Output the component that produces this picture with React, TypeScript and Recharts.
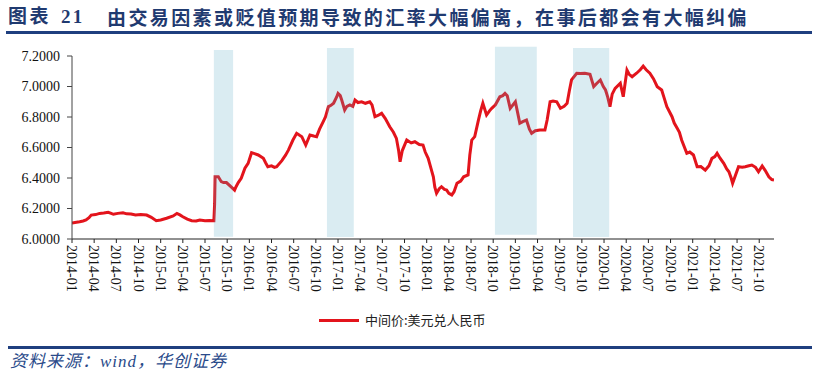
import React from 'react';
import { LineChart, Line, XAxis, YAxis, ReferenceArea } from 'recharts';

const dates = [
  '2014-01-01','2014-01-19','2014-02-02','2014-02-16','2014-02-28','2014-03-10','2014-03-19','2014-04-07','2014-04-23','2014-05-10',
  '2014-05-28','2014-06-10','2014-06-19','2014-07-07','2014-07-28','2014-08-13','2014-09-01','2014-09-19','2014-10-10','2014-11-04',
  '2014-11-23','2014-12-13','2015-01-01','2015-01-25','2015-02-22','2015-03-07','2015-03-19','2015-04-01','2015-04-19','2015-05-07',
  '2015-05-25','2015-06-10','2015-07-01','2015-07-19','2015-08-07','2015-08-10','2015-08-12','2015-08-25','2015-09-07','2015-09-16',
  '2015-09-28','2015-10-16','2015-11-01','2015-11-07','2015-11-16','2015-11-28','2015-12-13','2015-12-26','2016-01-10','2016-01-22',
  '2016-02-07','2016-02-28','2016-03-07','2016-03-16','2016-04-01','2016-04-13','2016-04-22','2016-05-13','2016-05-28','2016-06-10',
  '2016-06-28','2016-07-13','2016-07-25','2016-08-04','2016-08-20','2016-09-07','2016-09-22','2016-10-04','2016-10-16','2016-11-01',
  '2016-11-10','2016-11-22','2016-12-01','2016-12-13','2016-12-25','2017-01-01','2017-01-10','2017-01-16','2017-01-28','2017-02-07',
  '2017-02-19','2017-03-01','2017-03-10','2017-03-22','2017-04-07','2017-04-22','2017-05-10','2017-05-19','2017-06-01','2017-06-13',
  '2017-06-28','2017-07-13','2017-08-01','2017-08-16','2017-08-28','2017-09-07','2017-09-13','2017-09-22','2017-10-10','2017-10-28',
  '2017-11-13','2017-12-01','2017-12-16','2017-12-25','2018-01-07','2018-01-19','2018-01-28','2018-02-04','2018-02-11','2018-02-22',
  '2018-03-01','2018-03-13','2018-03-22','2018-04-01','2018-04-13','2018-04-22','2018-05-04','2018-05-19','2018-06-01','2018-06-19',
  '2018-06-26','2018-07-04','2018-07-16','2018-08-01','2018-08-10','2018-08-19','2018-09-04','2018-09-16','2018-09-25','2018-10-10',
  '2018-10-28','2018-11-10','2018-11-19','2018-11-28','2018-12-10','2019-01-01','2019-01-10','2019-01-19','2019-02-01','2019-02-16',
  '2019-02-28','2019-03-07','2019-03-22','2019-04-10','2019-05-01','2019-05-10','2019-05-22','2019-06-04','2019-06-19','2019-07-04',
  '2019-07-19','2019-08-01','2019-08-10','2019-08-19','2019-09-10','2019-09-25','2019-10-13','2019-11-04','2019-11-19','2019-12-01',
  '2019-12-16','2019-12-28','2020-01-07','2020-01-16','2020-01-25','2020-02-04','2020-02-16','2020-03-07','2020-03-19','2020-04-04',
  '2020-04-13','2020-04-25','2020-05-13','2020-05-28','2020-06-10','2020-06-22','2020-07-07','2020-07-22','2020-08-07','2020-08-25',
  '2020-09-04','2020-09-16','2020-10-07','2020-10-16','2020-10-28','2020-11-07','2020-11-16','2020-12-07','2020-12-19','2021-01-04',
  '2021-01-19','2021-02-04','2021-02-22','2021-03-07','2021-03-19','2021-04-01','2021-04-10','2021-04-22','2021-05-07','2021-05-19',
  '2021-05-28','2021-06-07','2021-06-13','2021-06-25','2021-07-07','2021-07-22','2021-08-04','2021-08-19','2021-09-01','2021-09-16',
  '2021-09-28','2021-10-13','2021-10-25','2021-11-10','2021-11-22','2021-12-01',
];

const rates = [
  6.105,6.110,6.113,6.118,6.125,6.140,6.157,6.160,6.168,6.170,
  6.175,6.168,6.162,6.168,6.172,6.165,6.164,6.157,6.160,6.157,
  6.142,6.120,6.125,6.136,6.151,6.168,6.158,6.146,6.130,6.120,
  6.118,6.125,6.120,6.121,6.120,6.230,6.408,6.408,6.376,6.370,
  6.370,6.343,6.320,6.343,6.370,6.398,6.464,6.496,6.566,6.560,
  6.551,6.529,6.500,6.474,6.480,6.470,6.474,6.514,6.550,6.584,
  6.649,6.693,6.680,6.671,6.616,6.682,6.675,6.671,6.720,6.770,
  6.800,6.868,6.875,6.890,6.930,6.955,6.940,6.911,6.846,6.870,
  6.879,6.870,6.911,6.895,6.900,6.890,6.900,6.880,6.802,6.810,
  6.824,6.790,6.736,6.700,6.660,6.580,6.507,6.580,6.649,6.630,
  6.638,6.620,6.616,6.570,6.529,6.460,6.408,6.340,6.300,6.330,
  6.343,6.325,6.321,6.300,6.289,6.310,6.365,6.380,6.408,6.420,
  6.550,6.649,6.671,6.780,6.840,6.890,6.813,6.840,6.857,6.880,
  6.933,6.940,6.955,6.940,6.857,6.900,6.830,6.759,6.770,6.780,
  6.720,6.693,6.710,6.715,6.715,6.780,6.900,6.905,6.900,6.857,
  6.870,6.890,6.970,7.043,7.087,7.085,7.087,7.080,6.999,7.020,
  7.043,7.000,6.977,6.930,6.868,6.950,6.988,7.021,6.933,7.108,
  7.080,7.064,7.087,7.110,7.134,7.110,7.087,7.050,6.999,6.977,
  6.930,6.868,6.802,6.760,6.726,6.700,6.649,6.562,6.570,6.551,
  6.474,6.475,6.452,6.480,6.529,6.540,6.562,6.530,6.496,6.460,
  6.441,6.400,6.365,6.420,6.474,6.470,6.474,6.480,6.485,6.470,
  6.441,6.479,6.450,6.408,6.390,6.387,
];

const tickLabels = [
  '2014-01','2014-04','2014-07','2014-10','2015-01','2015-04','2015-07','2015-10',
  '2016-01','2016-04','2016-07','2016-10','2017-01','2017-04','2017-07','2017-10',
  '2018-01','2018-04','2018-07','2018-10','2019-01','2019-04','2019-07','2019-10',
  '2020-01','2020-04','2020-07','2020-10','2021-01','2021-04','2021-07','2021-10',
];

const yTicks = [6.0, 6.2, 6.4, 6.6, 6.8, 7.0, 7.2];

// shaded periods (start, end dates) and their vertical extent
const bandStart = ['2015-08-07', '2016-11-16', '2018-10-08', '2019-08-25'];
const bandEnd = ['2015-10-25', '2017-03-05', '2019-03-28', '2020-01-22'];
const bandTop = [7.239, 7.252, 7.261, 7.252];
const bandBottom = [6.015, 6.013, 6.028, 6.013];

const seriesName = '中间价:美元兑人民币';
const titleLabel = '图表 21';
const title = '由交易因素或贬值预期导致的汇率大幅偏离，在事后都会有大幅纠偏';
const source = '资料来源：wind，华创证券';

const toMonths = (d: string) => {
  const [y, m, dd] = d.split('-').map(Number);
  return (y - 2014) * 12 + (m - 1) + ((dd || 1) - 1) / 30;
};

const data = dates.map((d, i) => ({ t: toMonths(d), v: rates[i] }));
const xTicks = tickLabels.map((l) => toMonths(l + '-01'));
const labelOf = (t: number) => {
  const idx = xTicks.findIndex((x) => Math.abs(x - t) < 1e-6);
  return idx >= 0 ? tickLabels[idx] : '';
};

const XTick = (props: any) => {
  const { x, y, payload } = props;
  return (
    <text
      x={x}
      y={y}
      dy="0.35em"
      transform={`rotate(90 ${x} ${y})`}
      textAnchor="start"
      fontFamily="'Liberation Serif', 'Times New Roman', serif"
      fontSize={14}
      fill="#111"
    >
      {labelOf(payload.value)}
    </text>
  );
};

export default function App() {
  return (
    <div
      style={{
        position: 'absolute',
        left: 0,
        top: 0,
        width: 821,
        height: 386,
        background: '#fff',
        overflow: 'hidden',
      }}
    >
      <div
        style={{
          position: 'absolute',
          left: 8,
          top: 5,
          fontFamily: "'Liberation Serif', 'Noto Sans CJK SC', serif",
          fontWeight: 'bold',
          fontSize: 19,
          letterSpacing: 2.4,
          wordSpacing: 3,
          color: '#1F3A70',
          whiteSpace: 'pre',
          lineHeight: '24px',
        }}
      >
        {titleLabel}
      </div>
      <div
        style={{
          position: 'absolute',
          left: 107,
          top: 5,
          fontFamily: "'Noto Sans CJK SC', sans-serif",
          fontWeight: 'bold',
          fontSize: 19,
          letterSpacing: 2.4,
          color: '#1F3A70',
          whiteSpace: 'nowrap',
          lineHeight: '24px',
        }}
      >
        {title}
      </div>
      <div style={{ position: 'absolute', left: 6, top: 31, width: 806, height: 3, background: '#1F3F7F' }} />

      <div style={{ position: 'absolute', left: 0, top: 0 }}>
        <LineChart width={821} height={300} data={data} margin={{ top: 56, right: 47, left: 12, bottom: 6 }}>
          <XAxis
            dataKey="t"
            type="number"
            domain={[0, 95]}
            ticks={xTicks}
            interval={0}
            tick={<XTick />}
            tickSize={4}
            tickMargin={2}
            height={55}
            axisLine={{ stroke: '#222', strokeWidth: 1 }}
            tickLine={{ stroke: '#222' }}
            allowDataOverflow
          />
          <YAxis
            type="number"
            domain={[6, 7.2]}
            ticks={yTicks}
            interval={0}
            width={60}
            tickSize={5}
            tickMargin={7}
            tickFormatter={(v: number) => v.toFixed(4)}
            tick={{ fontFamily: "'Liberation Serif', 'Times New Roman', serif", fontSize: 14, fill: '#111' }}
            axisLine={{ stroke: '#444', strokeWidth: 1 }}
            tickLine={{ stroke: '#444' }}
            allowDataOverflow
          />
          <Line
            type="linear"
            dataKey="v"
            stroke="#E3141C"
            strokeWidth={3}
            dot={false}
            isAnimationActive={false}
          />
          {bandStart.map((s, i) => (
            <ReferenceArea
              key={s}
              x1={toMonths(s)}
              x2={toMonths(bandEnd[i])}
              y1={bandBottom[i]}
              y2={bandTop[i]}
              fill="#57A9C4"
              fillOpacity={0.22}
              stroke="none"
              ifOverflow="visible"
              zIndex={1000}
            />
          ))}
        </LineChart>
      </div>

      <div style={{ position: 'absolute', left: 319, top: 318.5, width: 40, height: 3, background: '#E3141C' }} />
      <div
        style={{
          position: 'absolute',
          left: 365,
          top: 311,
          fontFamily: "'Noto Sans CJK SC', sans-serif",
          fontSize: 13,
          lineHeight: '18px',
          color: '#222',
          whiteSpace: 'nowrap',
        }}
      >
        {seriesName}
      </div>

      <div style={{ position: 'absolute', left: 8, top: 346, width: 804, height: 3, background: '#1F3F7F' }} />
      <div
        style={{
          position: 'absolute',
          left: 10,
          top: 352,
          fontFamily: "'Liberation Serif', 'Noto Sans CJK SC', serif",
          fontStyle: 'italic',
          fontSize: 17,
          letterSpacing: 1,
          lineHeight: '20px',
          color: '#2A4A8A',
          whiteSpace: 'nowrap',
        }}
      >
        {source}
      </div>
    </div>
  );
}
